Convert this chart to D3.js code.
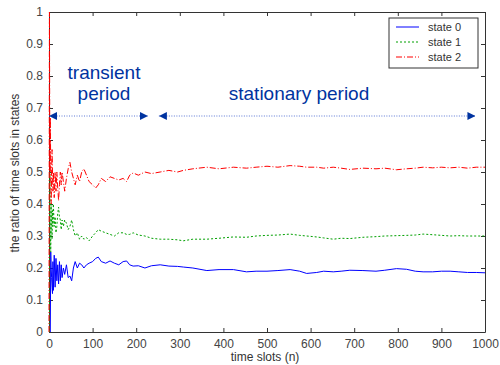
<!DOCTYPE html>
<html>
<head>
<meta charset="utf-8">
<script src="https://cdn.jsdelivr.net/npm/d3@7"></script>
<style>
  body { margin: 0; background: #fff; }
  text { font-family: "Liberation Sans", Arial, sans-serif; }
</style>
</head>
<body>
<div id="chart"></div>
<script>
// time slot index n
const slots = [0,1,2,3,4,5,6,7,8,9,10,12,14,16,18,20,22,24,26,28,30,33,36,40,44,48,52,56,60,65,70,75,80,86,92,100,107,113,120,130,140,150,160,170,178,185,193,205,220,235,255,275,295,308,330,362,390,423,453,475,500,525,553,575,591,614,630,652,670,690,720,750,770,797,820,840,858,880,900,920,940,960,980,1000];

const state0 = [0,0,0,0,0.25,0.2,0.17,0.14,0.12,0.22,0.13,0.24,0.14,0.23,0.16,0.21,0.15,0.22,0.16,0.21,0.17,0.2,0.18,0.21,0.17,0.175,0.16,0.2,0.22,0.2,0.215,0.21,0.2,0.21,0.215,0.22,0.23,0.234,0.22,0.215,0.222,0.215,0.21,0.22,0.222,0.21,0.206,0.207,0.2,0.207,0.21,0.206,0.205,0.203,0.2,0.192,0.195,0.195,0.188,0.19,0.19,0.192,0.195,0.19,0.183,0.186,0.19,0.188,0.19,0.193,0.192,0.19,0.193,0.198,0.196,0.19,0.188,0.188,0.19,0.19,0.188,0.186,0.186,0.185];

const state1 = [0,0,0.5,0.33,0.25,0.4,0.33,0.29,0.38,0.33,0.4,0.33,0.36,0.31,0.33,0.37,0.39,0.36,0.35,0.32,0.35,0.33,0.35,0.34,0.32,0.33,0.35,0.32,0.3,0.31,0.29,0.3,0.29,0.295,0.285,0.3,0.31,0.32,0.315,0.31,0.305,0.3,0.31,0.31,0.305,0.305,0.31,0.303,0.3,0.293,0.29,0.29,0.288,0.285,0.29,0.29,0.293,0.297,0.296,0.3,0.302,0.303,0.306,0.302,0.3,0.297,0.294,0.29,0.293,0.292,0.296,0.298,0.3,0.301,0.302,0.303,0.306,0.304,0.302,0.3,0.301,0.3,0.3,0.3];

const state2 = [0,1,0.5,0.67,0.5,0.4,0.5,0.57,0.5,0.44,0.5,0.42,0.5,0.44,0.5,0.45,0.41,0.46,0.5,0.46,0.5,0.47,0.44,0.48,0.51,0.53,0.5,0.48,0.46,0.49,0.47,0.5,0.51,0.49,0.47,0.46,0.45,0.46,0.48,0.47,0.485,0.48,0.475,0.48,0.47,0.49,0.497,0.49,0.5,0.495,0.5,0.505,0.5,0.505,0.51,0.515,0.51,0.515,0.512,0.515,0.518,0.515,0.52,0.518,0.515,0.515,0.512,0.515,0.512,0.508,0.512,0.51,0.512,0.507,0.51,0.512,0.515,0.513,0.515,0.513,0.515,0.512,0.515,0.515];

const seriesNames = ["state 0", "state 1", "state 2"];
const seriesColors = ["#0000ff", "#00a000", "#ff0000"];
const seriesDash = [null, "2,2", "6,2,1,2"];

const xTicks = [0,100,200,300,400,500,600,700,800,900,1000];
const yTicks = [0,0.1,0.2,0.3,0.4,0.5,0.6,0.7,0.8,0.9,1];

// period annotations: arrow level and span (in data units)
const arrowLevel = 0.675;
const transientSpan = [0, 227];
const stationarySpan = [252, 978];

const W = 500, H = 365;
const m = { left: 49, right: 485, top: 12, bottom: 332 };

const svg = d3.select("#chart").append("svg")
  .attr("width", W).attr("height", H);

const x = d3.scaleLinear().domain([0, 1000]).range([m.left, m.right]);
const y = d3.scaleLinear().domain([0, 1]).range([m.bottom, m.top]);

const defs = svg.append("defs");
defs.append("clipPath").attr("id", "plot")
  .append("rect").attr("x", m.left - 1).attr("y", m.top)
  .attr("width", m.right - m.left + 1).attr("height", m.bottom - m.top);

defs.append("marker").attr("id", "ah")
  .attr("viewBox", "0 0 10 10").attr("refX", 10).attr("refY", 5)
  .attr("markerWidth", 8).attr("markerHeight", 8)
  .attr("markerUnits", "userSpaceOnUse")
  .attr("orient", "auto-start-reverse")
  .append("path").attr("d", "M0,0L10,5L0,10Z").attr("fill", "#0033a0");

// axes with inward ticks, MATLAB style box
const tickCol = "#444";
const fmtY = d => d === 0 ? "0" : d === 1 ? "1" : d3.format(".1f")(d);

const gx = svg.append("g").attr("transform", `translate(0,${m.bottom})`)
  .call(d3.axisBottom(x).tickValues(xTicks).tickFormat(d3.format("d")).tickSizeInner(-4).tickSizeOuter(0).tickPadding(7));
const gy = svg.append("g").attr("transform", `translate(${m.left},0)`)
  .call(d3.axisLeft(y).tickValues(yTicks).tickFormat(fmtY).tickSizeInner(-4).tickSizeOuter(0).tickPadding(6));
const gt = svg.append("g").attr("transform", `translate(0,${m.top})`)
  .call(d3.axisTop(x).tickValues(xTicks).tickSizeInner(-4).tickSizeOuter(0).tickFormat(""));
const gr = svg.append("g").attr("transform", `translate(${m.right},0)`)
  .call(d3.axisRight(y).tickValues(yTicks).tickSizeInner(-4).tickSizeOuter(0).tickFormat(""));

[gx, gy, gt, gr].forEach(g => {
  g.selectAll("path.domain").attr("stroke", "#333");
  g.selectAll(".tick line").attr("stroke", "#333");
  g.selectAll(".tick text").attr("fill", tickCol).style("font-size", "12px")
    .style("font-family", "Liberation Sans, Arial, sans-serif");
});

// series, drawn over the axes like the original
const data = [state0, state1, state2];
const line = d3.line().x((d, i) => x(slots[i])).y(d => y(d));

const lines = svg.append("g").attr("clip-path", "url(#plot)");
data.forEach((vals, k) => {
  lines.append("path")
    .datum(vals)
    .attr("d", line)
    .attr("fill", "none")
    .attr("stroke", seriesColors[k])
    .attr("stroke-width", 1)
    .attr("stroke-dasharray", seriesDash[k]);
});

// axis titles
svg.append("text").attr("x", 265).attr("y", 361)
  .attr("text-anchor", "middle").attr("fill", "#333").style("font-size", "12px")
  .text("time slots (n)");
svg.append("text")
  .attr("transform", `translate(19,173) rotate(-90)`)
  .attr("text-anchor", "middle").attr("fill", "#333").style("font-size", "12px")
  .text("the ratio of time slots in states");

// period annotations
const annCol = "#0033a0";
[transientSpan, stationarySpan].forEach(s => {
  svg.append("line")
    .attr("x1", x(s[0])).attr("x2", x(s[1]))
    .attr("y1", y(arrowLevel)).attr("y2", y(arrowLevel))
    .attr("stroke", "#3355cc").attr("stroke-width", 0.8)
    .attr("stroke-dasharray", "1,1.5")
    .attr("marker-start", "url(#ah)").attr("marker-end", "url(#ah)");
});
svg.append("text").attr("x", 104).attr("y", 79).attr("text-anchor", "middle")
  .attr("fill", annCol).style("font-size", "19px").text("transient");
svg.append("text").attr("x", 104).attr("y", 100).attr("text-anchor", "middle")
  .attr("fill", annCol).style("font-size", "19px").text("period");
svg.append("text").attr("x", 299).attr("y", 100).attr("text-anchor", "middle")
  .attr("fill", annCol).style("font-size", "19px").text("stationary period");

// legend
const lg = svg.append("g");
lg.append("rect").attr("x", 389).attr("y", 18).attr("width", 89).attr("height", 50)
  .attr("fill", "#fff").attr("stroke", "#333").attr("stroke-width", 1);
seriesNames.forEach((name, k) => {
  const yy = 27 + k * 15;
  lg.append("line").attr("x1", 396).attr("x2", 419).attr("y1", yy).attr("y2", yy)
    .attr("stroke", seriesColors[k]).attr("stroke-width", 1)
    .attr("stroke-dasharray", seriesDash[k]);
  lg.append("text").attr("x", 428).attr("y", yy + 4)
    .attr("fill", "#333").style("font-size", "11px").text(name);
});
</script>
</body>
</html>
